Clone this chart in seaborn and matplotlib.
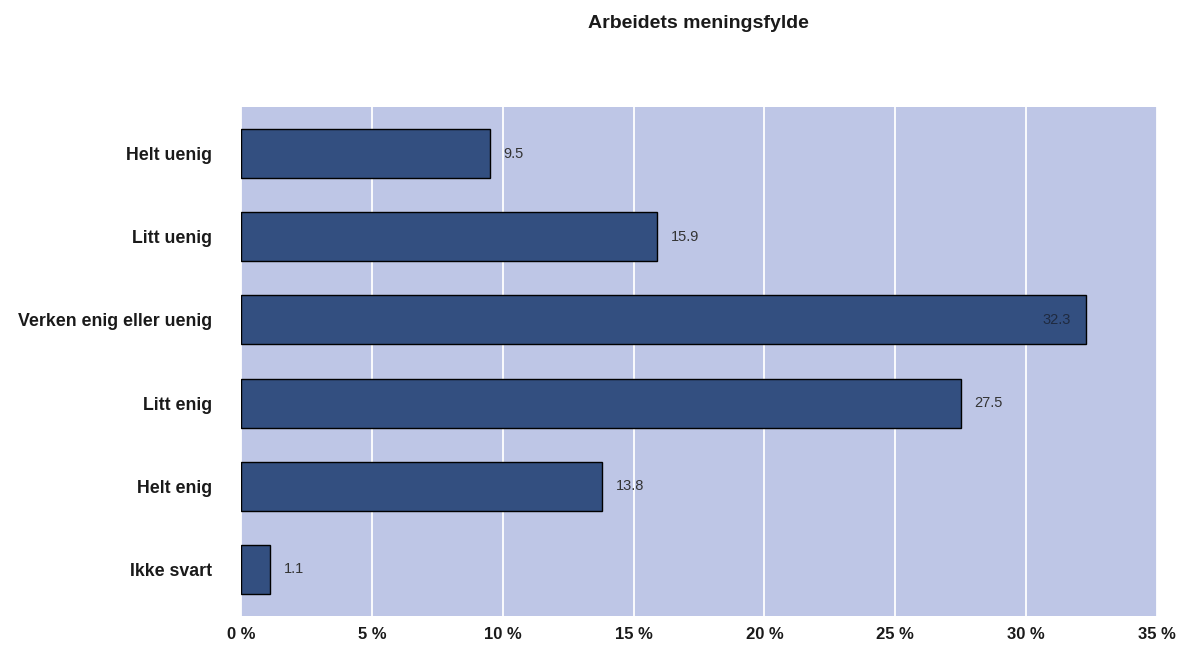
import matplotlib
matplotlib.use("Agg")
import matplotlib.pyplot as plt
import seaborn as sns
import pandas as pd
from matplotlib.ticker import FixedLocator

categories = ["Helt uenig", "Litt uenig", "Verken enig eller uenig",
              "Litt enig", "Helt enig", "Ikke svart"]
values = [9.5, 15.9, 32.3, 27.5, 13.8, 1.1]
x_ticks = [0, 5, 10, 15, 20, 25, 30, 35]
x_tick_labels = ["0 %", "5 %", "10 %", "15 %", "20 %", "25 %", "30 %", "35 %"]
title = "Arbeidets meningsfylde"

df = pd.DataFrame({"kategori": categories, "prosent": values})

sns.set_style("white")
plt.rcParams["font.family"] = ["Liberation Sans", "DejaVu Sans"]

bar_color = "#334f80"
bg_color = "#bec6e6"

fig = plt.figure(figsize=(11.87, 6.45), dpi=100)
ax = fig.add_axes([0.2030, 0.0450, 0.7717, 0.7891])
ax.set_facecolor(bg_color)

sns.barplot(data=df, x="prosent", y="kategori", orient="h", color=bar_color,
            saturation=1, width=0.59, edgecolor="black", linewidth=1.0,
            ax=ax, zorder=3)

ax.set_xlim(0, 35)
ax.set_ylim(5.56, -0.56)
ax.xaxis.set_major_locator(FixedLocator(x_ticks))
ax.set_xticklabels(x_tick_labels, fontsize=12, fontweight="bold", color="#1a1a1a")
ax.tick_params(axis="x", length=0, pad=8)
ax.tick_params(axis="y", length=0, pad=21)
for lbl in ax.get_yticklabels():
    lbl.set_fontsize(12.8)
    lbl.set_fontweight("bold")
    lbl.set_color("#1a1a1a")
ax.set_xlabel("")
ax.set_ylabel("")
ax.grid(axis="x", color="white", linewidth=1.3, zorder=1)
ax.grid(axis="y", visible=False)
for s in ax.spines.values():
    s.set_visible(False)

# value labels: outside the bar end, or inside when the bar is long
for i, v in enumerate(values):
    if v > 30:
        ax.annotate(f"{v:.1f}", xy=(v, i), xytext=(-11, 0), textcoords="offset points",
                    ha="right", va="center", fontsize=10.5, color="#1f2a40", zorder=4)
    else:
        ax.annotate(f"{v:.1f}", xy=(v, i), xytext=(10, 0), textcoords="offset points",
                    ha="left", va="center", fontsize=10.5, color="#333333", zorder=4)

fig.text(0.5885, 0.963, title, ha="center", va="center", fontsize=14,
         fontweight="bold", color="#1a1a1a")

fig.savefig("out.png", dpi=100, facecolor="white")
